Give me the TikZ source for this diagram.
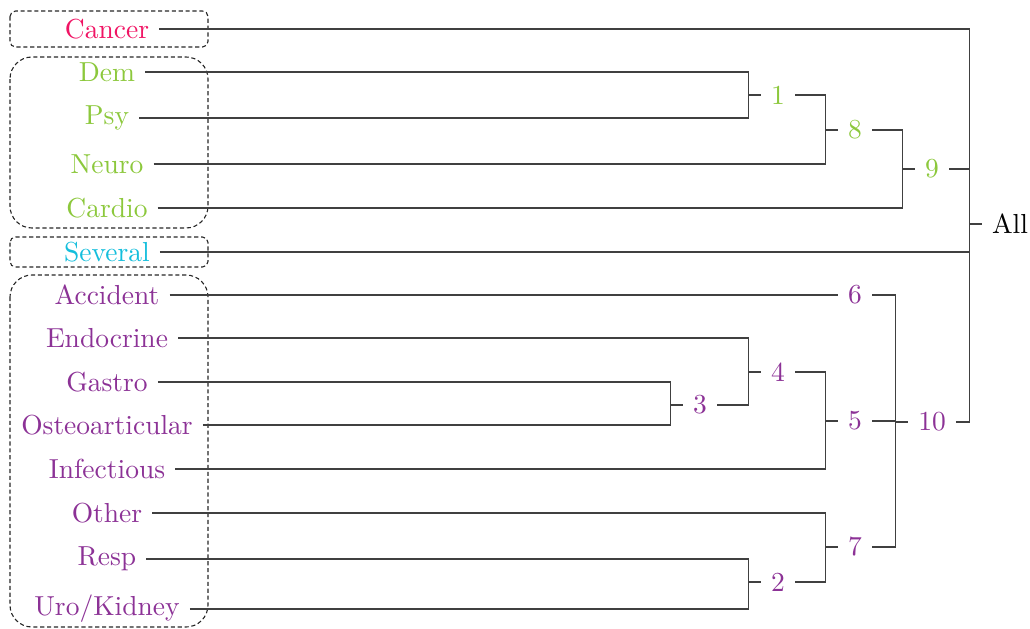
\documentclass[tikz,border=0pt]{standalone}
\usetikzlibrary{positioning}
\definecolor{cancercol}{RGB}{240,20,100}
\definecolor{organcol}{RGB}{140,200,60}
\definecolor{severalcol}{RGB}{20,190,220}
\definecolor{restcol}{RGB}{140,50,150}

\begin{document}
\begin{tikzpicture}[
    x=0.3636pt, y=-0.3636pt,
    leaf/.style={inner sep=3.5pt},
    merge/.style={inner sep=3.5pt},
    link/.style={draw=black!75, line width=0.5pt},
    groupbox/.style={draw=black!85, line width=0.4pt, dash pattern=on 1.5pt off 1pt, rounded corners=#1},
    groupbox/.default=2pt
]
\useasboundingbox (0,0) rectangle (1030,629);

% Groups
\draw[groupbox] (10,11) rectangle (208,47);
\draw[groupbox=8pt] (10,57) rectangle (208,228);
\draw[groupbox] (10,237) rectangle (208,267);
\draw[groupbox=8pt] (10,275) rectangle (208,627);

% Leaves
\node[leaf, text=cancercol] (cancer) at (107,29) {Cancer};
\node[leaf, text=organcol] (dem) at (107,72) {Dem};
\node[leaf, text=organcol] (psy) at (107,118) {Psy};
\node[leaf, text=organcol] (neuro) at (107,164) {Neuro};
\node[leaf, text=organcol] (cardio) at (107,208) {Cardio};
\node[leaf, text=severalcol] (several) at (107,252) {Several};
\node[leaf, text=restcol] (accident) at (107,295) {Accident};
\node[leaf, text=restcol] (endocrine) at (107,338) {Endocrine};
\node[leaf, text=restcol] (gastro) at (107,382) {Gastro};
\node[leaf, text=restcol] (osteo) at (107,425) {Osteoarticular};
\node[leaf, text=restcol] (infectious) at (107,469) {Infectious};
\node[leaf, text=restcol] (other) at (107,513) {Other};
\node[leaf, text=restcol] (resp) at (107,559) {Resp};
\node[leaf, text=restcol] (uro) at (107,609) {Uro/Kidney};

% Merges
\node[merge, text=organcol] (m1) at (778,95) {1};
\node[merge, text=organcol] (m8) at (855,130) {8};
\node[merge, text=organcol] (m9) at (932,169) {9};
\node[merge, text=restcol] (m3) at (700,405) {3};
\node[merge, text=restcol] (m4) at (778,372) {4};
\node[merge, text=restcol] (m5) at (855,421) {5};
\node[merge, text=restcol] (m6) at (855,295) {6};
\node[merge, text=restcol] (m2) at (778,582) {2};
\node[merge, text=restcol] (m7) at (855,547) {7};
\node[merge, text=restcol] (m10) at (932,422) {10};
\node[merge] (all) at (1010,224) {All};

% Links
\draw[link] (dem.east) -| ([xshift=-4.5pt]m1.west) -- (m1.west);
\draw[link] (psy.east) -| ([xshift=-4.5pt]m1.west) -- (m1.west);
\draw[link] (m1.east) -| ([xshift=-4.5pt]m8.west) -- (m8.west);
\draw[link] (neuro.east) -| ([xshift=-4.5pt]m8.west) -- (m8.west);
\draw[link] (m8.east) -| ([xshift=-4.5pt]m9.west) -- (m9.west);
\draw[link] (cardio.east) -| ([xshift=-4.5pt]m9.west) -- (m9.west);
\draw[link] (accident.east) -| ([xshift=-4.5pt]m6.west) -- (m6.west);
\draw[link] (gastro.east) -| ([xshift=-4.5pt]m3.west) -- (m3.west);
\draw[link] (osteo.east) -| ([xshift=-4.5pt]m3.west) -- (m3.west);
\draw[link] (endocrine.east) -| ([xshift=-4.5pt]m4.west) -- (m4.west);
\draw[link] (m3.east) -| ([xshift=-4.5pt]m4.west) -- (m4.west);
\draw[link] (m4.east) -| ([xshift=-4.5pt]m5.west) -- (m5.west);
\draw[link] (infectious.east) -| ([xshift=-4.5pt]m5.west) -- (m5.west);
\draw[link] (resp.east) -| ([xshift=-4.5pt]m2.west) -- (m2.west);
\draw[link] (uro.east) -| ([xshift=-4.5pt]m2.west) -- (m2.west);
\draw[link] (other.east) -| ([xshift=-4.5pt]m7.west) -- (m7.west);
\draw[link] (m2.east) -| ([xshift=-4.5pt]m7.west) -- (m7.west);
\draw[link] (m6.east) -| ([xshift=-4.5pt]m10.west) -- (m10.west);
\draw[link] (m5.east) -| ([xshift=-4.5pt]m10.west) -- (m10.west);
\draw[link] (m7.east) -| ([xshift=-4.5pt]m10.west) -- (m10.west);
\draw[link] (cancer.east) -| ([xshift=-4.5pt]all.west) -- (all.west);
\draw[link] (m9.east) -| ([xshift=-4.5pt]all.west) -- (all.west);
\draw[link] (several.east) -| ([xshift=-4.5pt]all.west) -- (all.west);
\draw[link] (m10.east) -| ([xshift=-4.5pt]all.west) -- (all.west);

\end{tikzpicture}
\end{document}
